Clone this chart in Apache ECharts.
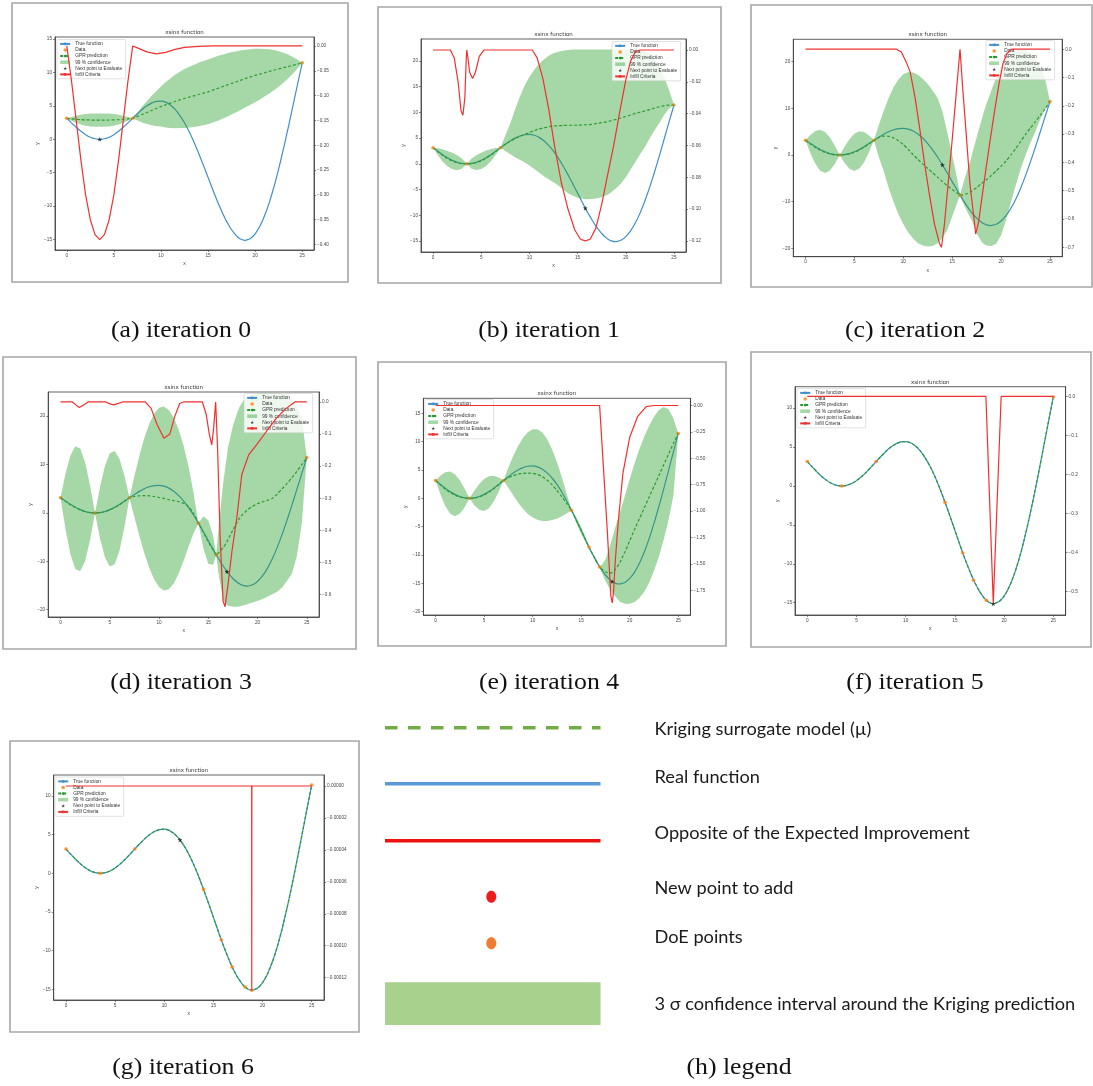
<!DOCTYPE html>
<html><head><meta charset="utf-8">
<script src="https://cdn.jsdelivr.net/npm/echarts@6/dist/echarts.min.js"></script>
<style>html,body{margin:0;padding:0;background:#fff}#c{width:1093px;height:1086px}</style>
</head><body><div id="c"></div>
<script>
// ---------- shared x grid and true function ----------
const X = [0,0.5,1,1.5,2,2.5,3,3.5,4,4.5,5,5.5,6,6.5,7,7.5,8,8.5,9,9.5,10,10.5,11,11.5,12,12.5,13,13.5,14,14.5,15,15.5,15.8,16,16.5,16.9,17,17.5,18,18.2,18.5,18.9,19,19.5,20,20.5,21,21.5,22,22.5,23,23.5,24,24.5,25];
const TRUE_Y = [3.14,2.45,1.79,1.19,0.69,0.31,0.08,0,0.08,0.31,0.69,1.19,1.79,2.45,3.14,3.82,4.46,5.00,5.41,5.66,5.71,5.55,5.14,4.48,3.58,2.46,1.12,-0.42,-2.10,-3.87,-5.70,-7.53,-8.61,-9.30,-10.91,-12.11,-12.36,-13.54,-14.43,-14.69,-14.97,-15.13,-15.12,-14.85,-14.15,-13.02,-11.45,-9.48,-7.11,-4.43,-1.48,1.66,4.92,8.20,11.43];
const X_TICKS = [0,5,10,15,20,25];

// ---------- (a) iteration 0 ----------
const gpA = [3.14,3.05,2.98,2.93,2.90,2.88,2.87,2.87,2.87,2.88,2.90,2.93,2.98,3.05,3.14,3.42,3.70,4.00,4.30,4.60,4.90,5.15,5.40,5.65,5.90,6.10,6.30,6.50,6.70,6.90,7.10,7.35,7.50,7.60,7.85,8.05,8.10,8.35,8.60,8.70,8.85,9.05,9.10,9.33,9.55,9.75,9.95,10.15,10.35,10.52,10.70,10.88,11.05,11.24,11.43];
const loA = [3.14,2.77,2.46,2.21,2.03,1.92,1.87,1.87,1.87,1.92,2.03,2.21,2.46,2.77,3.14,2.82,2.50,2.30,2.10,2.00,1.90,1.75,1.70,1.65,1.70,1.70,1.75,1.85,1.95,2.10,2.25,2.50,2.65,2.75,3.05,3.30,3.35,3.70,4.05,4.20,4.40,4.70,4.80,5.18,5.55,5.95,6.40,6.85,7.35,7.87,8.45,9.08,9.80,10.59,11.43];
const hiA = [3.14,3.33,3.50,3.65,3.77,3.84,3.87,3.87,3.87,3.84,3.77,3.65,3.50,3.33,3.14,4.02,4.90,5.70,6.50,7.20,7.90,8.55,9.10,9.65,10.10,10.50,10.85,11.15,11.45,11.70,11.95,12.20,12.35,12.45,12.65,12.80,12.85,13.00,13.15,13.20,13.30,13.40,13.40,13.48,13.55,13.55,13.50,13.45,13.35,13.17,12.95,12.68,12.30,11.89,11.43];
const eiA = [[0,0],[0.25,-0.035],[0.5,-0.07],[1,-0.15],[1.5,-0.23],[2,-0.30],[2.5,-0.35],[3,-0.38],[3.5,-0.39],[4,-0.38],[4.5,-0.35],[5,-0.30],[5.5,-0.23],[6,-0.15],[6.5,-0.07],[6.75,-0.035],[7,0],[7.5,-0.004],[8.5,-0.012],[9.5,-0.016],[10.5,-0.013],[11.5,-0.007],[12.5,-0.003],[14,-0.001],[15.5,0],[25,0]];
const dataA = [[0,3.14],[7,3.14],[25,11.43]];
const nextA = [[3.5,0]];

// ---------- (b) iteration 1 ----------
const gpB = [3.14,2.35,1.62,1.02,0.55,0.22,0.05,0,0.05,0.24,0.58,1.08,1.70,2.40,3.14,3.80,4.40,4.90,5.30,5.70,6.10,6.45,6.80,7.00,7.20,7.35,7.40,7.45,7.50,7.50,7.50,7.55,7.60,7.60,7.70,7.80,7.85,8.00,8.15,8.25,8.40,8.60,8.65,8.90,9.20,9.50,9.80,10.05,10.30,10.55,10.85,11.10,11.30,11.40,11.43];
const loB = [3.14,1.65,0.42,-0.48,-1.05,-1.23,-0.95,0,-0.95,-1.21,-1.02,-0.42,0.50,1.70,3.14,2.5,1.9,1.3,0.8,0.3,-0.3,-1.0,-1.7,-2.4,-3.0,-3.6,-4.2,-5.0,-5.7,-6.2,-6.6,-6.8,-6.9,-6.9,-6.85,-6.75,-6.7,-6.5,-6.1,-5.9,-5.5,-4.9,-4.75,-3.8,-2.6,-1.1,0.4,1.9,3.3,5.0,6.6,8.0,9.6,10.7,11.43];
const hiB = [3.14,3.05,2.82,2.52,2.15,1.67,1.05,0,1.05,1.69,2.18,2.58,2.90,3.10,3.14,5.5,7.8,10.5,13.0,15.2,16.9,18.3,19.4,20.3,21.0,21.5,21.8,22.0,22.1,22.2,22.2,22.2,22.2,22.2,22.2,22.2,22.2,22.2,22.2,22.2,22.2,22.2,22.2,22.2,22.2,22.2,22.2,22.1,21.9,21.3,20.2,18.9,16.8,14.3,11.43];
const eiB = [[0,0],[1.8,0],[2.2,-0.005],[2.6,-0.02],[2.9,-0.038],[3.1,-0.041],[3.3,-0.03],[3.45,-0.005],[3.5,0],[3.6,-0.004],[3.8,-0.014],[4.1,-0.018],[4.4,-0.014],[4.8,-0.004],[5.3,0],[10.3,0],[10.8,-0.005],[11.4,-0.018],[12,-0.037],[12.6,-0.06],[13.3,-0.083],[14,-0.1],[14.7,-0.113],[15.3,-0.119],[15.8,-0.12],[16.3,-0.119],[16.9,-0.112],[17.5,-0.097],[18.1,-0.079],[18.75,-0.06],[19.4,-0.038],[20,-0.019],[20.5,-0.007],[21,-0.001],[21.5,0],[25,0]];
const dataB = [[0,3.14],[3.5,0],[7,3.14],[25,11.43]];
const nextB = [[15.8,-8.61]];

// ---------- (c) iteration 2 ----------
const gpC = [3.14,2.35,1.62,1.02,0.55,0.22,0.05,0,0.05,0.24,0.58,1.08,1.70,2.40,3.14,3.75,4.05,4.00,3.65,3.05,2.25,1.20,0.10,-0.95,-1.95,-2.90,-3.80,-4.75,-5.70,-6.60,-7.40,-8.15,-8.61,-8.60,-8.30,-7.90,-7.70,-7.00,-6.10,-5.80,-5.30,-4.60,-4.40,-3.40,-2.40,-1.30,0.00,1.40,2.90,4.40,5.80,7.10,8.50,9.90,11.43];
const loC = [3.14,0.40,-1.90,-3.37,-3.84,-3.30,-1.90,0,-1.73,-2.97,-3.42,-2.92,-1.51,0.62,3.14,-0.5,-3.5,-7.0,-10.0,-12.7,-14.8,-16.6,-17.9,-18.9,-19.4,-19.6,-19.5,-18.9,-17.8,-16.1,-13.2,-10.3,-8.61,-9.8,-12.0,-13.6,-14.0,-16.8,-18.6,-19.0,-19.4,-19.5,-19.5,-19.0,-17.2,-14.0,-10.2,-6.5,-3.0,0.0,2.6,5.0,7.6,9.8,11.43];
const hiC = [3.14,4.30,5.14,5.41,4.94,3.74,2.00,0,1.83,3.45,4.58,5.08,4.91,4.18,3.14,6.5,9.5,12.2,14.5,16.2,17.3,17.8,17.7,17.2,16.3,15.2,13.8,12.2,9.4,4.8,0.0,-5.0,-8.61,-7.0,-3.5,-1.0,0.0,3.8,7.5,9.0,11.0,13.2,13.8,16.6,18.8,20.5,21.7,22.4,22.6,22.4,21.8,20.6,18.8,16.4,11.43];
const eiC = [[0,0],[9.3,0],[9.8,-0.01],[10.35,-0.05],[10.7,-0.08],[11.2,-0.17],[11.7,-0.285],[12.2,-0.41],[12.7,-0.52],[13.2,-0.62],[13.7,-0.686],[13.9,-0.70],[14.2,-0.62],[14.6,-0.47],[15.0,-0.32],[15.4,-0.16],[15.8,0],[16.1,-0.15],[16.4,-0.285],[16.8,-0.47],[17.2,-0.59],[17.4,-0.653],[17.7,-0.61],[18.3,-0.46],[18.8,-0.34],[19.3,-0.226],[19.8,-0.12],[20.2,-0.05],[20.6,-0.015],[21.1,0],[25,0]];
const dataC = [[0,3.14],[3.5,0],[7,3.14],[15.8,-8.61],[25,11.43]];
const nextC = [[14,-2.10]];

// ---------- (d) iteration 3 ----------
const gpD = [3.14,2.40,1.70,1.10,0.62,0.26,0.06,0,0.06,0.26,0.62,1.10,1.70,2.40,3.14,3.40,3.55,3.60,3.55,3.40,3.20,3.00,2.75,2.55,2.35,2.00,1.30,0.00,-2.10,-4.00,-6.00,-7.70,-8.61,-8.30,-7.20,-5.90,-5.50,-3.50,-1.60,-1.00,-0.30,0.50,0.70,1.40,1.90,2.30,2.60,3.00,3.90,5.00,6.10,7.30,8.60,10.00,11.43];
const loD = [3.14,-3.24,-8.47,-11.58,-12.06,-9.91,-5.58,0,-5.15,-9.12,-11.08,-10.60,-7.68,-2.81,3.14,-0.83,-4.69,-8.25,-11.30,-13.72,-15.32,-16.00,-15.77,-14.57,-12.50,-9.85,-6.94,-4.23,-2.10,-7.3,-10.5,-10.7,-8.61,-12.0,-18.0,-19.0,-19.2,-19.4,-19.4,-19.3,-19.1,-18.9,-18.8,-18.5,-18.2,-17.8,-17.3,-16.8,-16.3,-15.4,-14.0,-12.5,-8.8,-2.0,11.43];
const hiD = [3.14,8.04,11.87,13.78,13.30,10.43,5.70,0,5.27,9.64,12.32,12.80,11.08,7.61,3.14,7.63,11.79,15.45,18.40,20.52,21.72,22.00,21.27,19.67,17.20,13.85,9.54,4.23,-2.10,-0.7,-1.5,-4.7,-8.61,-4.0,6.0,12.0,13.5,18.0,21.0,22.0,23.0,24.0,24.2,24.5,24.7,24.8,24.8,24.8,24.8,24.7,24.3,23.5,22.0,19.5,11.43];
const eiD = [[0,0],[1.2,0],[1.6,-0.01],[1.9,-0.017],[2.3,-0.01],[2.8,0],[4.6,0],[5.0,-0.006],[5.4,-0.009],[5.8,-0.005],[6.3,0],[8.6,0],[9.2,-0.02],[9.8,-0.07],[10.5,-0.113],[11.1,-0.10],[11.6,-0.045],[12.1,-0.005],[12.5,0],[14.4,0],[14.8,-0.04],[15.1,-0.1],[15.35,-0.134],[15.55,-0.08],[15.75,0],[15.95,-0.15],[16.2,-0.42],[16.5,-0.62],[16.7,-0.638],[17.0,-0.57],[17.4,-0.466],[17.9,-0.36],[18.4,-0.227],[19.1,-0.165],[19.9,-0.134],[20.9,-0.092],[21.9,-0.051],[22.9,-0.02],[23.8,0],[25,0]];
const dataD = [[0,3.14],[3.5,0],[7,3.14],[14,-2.10],[15.8,-8.61],[25,11.43]];
const nextD = [[16.9,-12.11]];

// ---------- (e) iteration 4 ----------
const gpE = [3.14,2.35,1.62,1.02,0.55,0.22,0.05,0,0.05,0.24,0.58,1.08,1.70,2.40,3.14,3.65,4.00,4.25,4.40,4.45,4.40,4.20,3.80,3.20,2.40,1.40,0.30,-0.90,-2.10,-3.85,-5.65,-7.50,-8.61,-9.30,-10.90,-12.11,-12.35,-13.00,-13.20,-13.10,-12.60,-11.60,-11.30,-9.50,-7.50,-5.50,-3.60,-1.70,0.20,2.10,4.00,5.90,7.80,9.70,11.43];
const loE = [3.14,0.70,-1.35,-2.68,-3.15,-2.75,-1.60,0,-1.21,-2.03,-2.25,-1.75,-0.57,1.14,3.14,1.87,0.53,-0.74,-1.85,-2.76,-3.40,-3.80,-4.00,-4.01,-3.85,-3.59,-3.17,-2.68,-2.10,-4.35,-6.25,-7.90,-8.61,-9.50,-11.20,-12.11,-12.60,-14.60,-16.10,-16.60,-17.30,-18.10,-18.30,-18.60,-18.60,-18.30,-17.60,-16.50,-14.90,-12.80,-10.30,-7.30,-3.80,0.50,11.43];
const hiE = [3.14,4.00,4.59,4.72,4.25,3.19,1.70,0,1.31,2.51,3.41,3.91,3.97,3.66,3.14,5.43,7.47,9.24,10.65,11.66,12.20,12.20,11.60,10.41,8.65,6.39,3.77,0.88,-2.10,-3.35,-5.05,-7.10,-8.61,-9.10,-10.60,-12.11,-12.10,-10.80,-8.20,-7.00,-5.20,-3.00,-2.40,0.40,3.40,6.20,8.70,10.90,12.80,14.40,15.60,16.10,15.70,14.10,11.43];
const eiE = [[0,0],[16.9,0],[17.3,-0.6],[17.7,-1.2],[18.05,-1.8],[18.2,-1.87],[18.35,-1.75],[18.5,-1.49],[18.8,-1.12],[19.3,-0.64],[20.0,-0.30],[20.8,-0.106],[21.7,-0.01],[22.5,0],[25,0]];
const dataE = [[0,3.14],[3.5,0],[7,3.14],[14,-2.10],[15.8,-8.61],[16.9,-12.11],[25,11.43]];
const nextE = [[18.2,-14.69]];

// ---------- (f) iteration 5 ----------
const gpF = TRUE_Y;
const eiF = [[0,0],[18.15,0],[18.9,-0.53],[19.7,0],[25,0]];
const dataF = [[0,3.14],[3.5,0],[7,3.14],[14,-2.10],[15.8,-8.61],[16.9,-12.11],[18.2,-14.69],[25,11.43]];
const nextF = [[18.9,-15.13]];

// ---------- (g) iteration 6 ----------
const gpG = TRUE_Y;
const eiG = [[0,0],[18.89,0],[18.9,-0.000128],[18.91,0],[25,0]];
const dataG = [[0,3.14],[3.5,0],[7,3.14],[14,-2.10],[15.8,-8.61],[16.9,-12.11],[18.2,-14.69],[18.9,-15.13],[25,11.43]];
const nextG = [[11.6,4.32]];

// ---------- tick labels ----------
const yTicksA = [-15,-10,-5,0,5,10,15];
const y2TicksA = [0,-0.05,-0.1,-0.15,-0.2,-0.25,-0.3,-0.35,-0.4];
const yTicksB = [-15,-10,-5,0,5,10,15,20];
const y2TicksB = [0,-0.02,-0.04,-0.06,-0.08,-0.1,-0.12];
const yTicksC = [-20,-10,0,10,20];
const y2TicksC = [0,-0.1,-0.2,-0.3,-0.4,-0.5,-0.6,-0.7];
const yTicksD = [-20,-10,0,10,20];
const y2TicksD = [0,-0.1,-0.2,-0.3,-0.4,-0.5,-0.6];
const yTicksE = [-20,-15,-10,-5,0,5,10,15];
const y2TicksE = [0,-0.25,-0.5,-0.75,-1,-1.25,-1.5,-1.75];
const yTicksF = [-15,-10,-5,0,5,10];
const y2TicksF = [0,-0.1,-0.2,-0.3,-0.4,-0.5];
const yTicksG = [-15,-10,-5,0,5,10];
const y2TicksG = [0,-0.00002,-0.00004,-0.00006,-0.00008,-0.0001,-0.00012];

const NAMES = ['True function','Data','GPR prediction','99 % confidence','Next point to Evaluate','Infill Criteria'];

// ---------- layout (positions / sizes only) ----------
const panels = [
  {gp:gpA, lo:loA, hi:hiA, ei:eiA, data:dataA, next:nextA, yT:yTicksA, y2T:y2TicksA, dec:2,
   grid:[55,37,259,213], yr:[-16.57,15.3], y2r:[-0.411,0.018], frame:[12,3,336,279], leg:[57,39.5], cap:['(a) iteration 0',181,331]},
  {gp:gpB, lo:loB, hi:hiB, ei:eiB, data:dataB, next:nextB, yT:yTicksB, y2T:y2TicksB, dec:2,
   grid:[421,39,265,213], yr:[-17.13,24.26], y2r:[-0.127,0.0069], frame:[378,7,343,276], leg:[612,41.5], cap:['(b) iteration 1',549,331]},
  {gp:gpC, lo:loC, hi:hiC, ei:eiC, data:dataC, next:nextC, yT:yTicksC, y2T:y2TicksC, dec:1,
   grid:[793.3,39.3,268.9,217.4], yr:[-21.8,24.8], y2r:[-0.733,0.035], frame:[751,5,341,282], leg:[986,40.5], cap:['(c) iteration 2',915,331]},
  {gp:gpD, lo:loD, hi:hiD, ei:eiD, data:dataD, next:nextD, yT:yTicksD, y2T:y2TicksD, dec:1,
   grid:[48.2,392,270.9,225], yr:[-21.5,25.0], y2r:[-0.670,0.031], frame:[3,357,353,292], leg:[244,393.5], cap:['(d) iteration 3',181,683]},
  {gp:gpE, lo:loE, hi:hiE, ei:eiE, data:dataE, next:nextE, yT:yTicksE, y2T:y2TicksE, dec:2,
   grid:[423.4,398.3,267,216.7], yr:[-20.6,17.65], y2r:[-1.984,0.068], frame:[378,362,348,284], leg:[425,399.5], cap:['(e) iteration 4',549,683]},
  {gp:gpF, lo:null, hi:null, ei:eiF, data:dataF, next:nextF, yT:yTicksF, y2T:y2TicksF, dec:1,
   grid:[795,386.7,270.6,228.3], yr:[-16.58,12.76], y2r:[-0.56,0.025], frame:[751,352,340,295], leg:[797,388.5], cap:['(f) iteration 5',915,683]},
  {gp:gpG, lo:null, hi:null, ei:eiG, data:dataG, next:nextG, yT:yTicksG, y2T:y2TicksG, dec:5,
   grid:[53.7,775,270.3,225], yr:[-16.39,12.72], y2r:[-0.000134,0.0000069], frame:[10,741,349,291], leg:[55,777], cap:['(g) iteration 6',183,1068]}
];

function fmt(v, d) {
  const s = Math.abs(v).toFixed(d);
  return (v < -1e-12 ? '\u2212' : '') + s;
}
function pairs(xs, ys) { return xs.map((x, k) => [x, ys[k]]); }

const AX = '#3a3a3a', LBL = '#444';
const C_TRUE = '#3f8fcc', C_GP = '#2a9a35', C_BAND = 'rgba(44,160,44,0.42)', C_EI = '#f0302f', C_DATA = '#ff7f0e';
const STAR = 'path://M50,0 L61,35 L98,35 L68,57 L79,91 L50,70 L21,91 L32,57 L2,35 L39,35 Z';

const grid = [], xAxis = [], yAxis = [], series = [], legend = [], graphic = [];

panels.forEach((p, i) => {
  const [gl, gt, gw, gh] = p.grid;
  grid.push({left: gl, top: gt, width: gw, height: gh, show: true, borderColor: AX, borderWidth: 0.8, backgroundColor: 'rgba(0,0,0,0)'});
  xAxis.push({gridIndex: i, type: 'value', min: -1.25, max: 26.25,
    name: 'x', nameLocation: 'middle', nameGap: 11, nameTextStyle: {fontSize: 5, color: LBL},
    axisLine: {show: true, onZero: false, lineStyle: {color: AX, width: 0.8}},
    axisTick: {show: true, length: 2, customValues: X_TICKS, lineStyle: {color: AX, width: 0.6}},
    axisLabel: {fontSize: 4.7, color: LBL, margin: 3, customValues: X_TICKS, formatter: v => fmt(v, 0)},
    splitLine: {show: false}});
  yAxis.push({gridIndex: i, type: 'value', position: 'left', min: p.yr[0], max: p.yr[1],
    name: 'y', nameLocation: 'middle', nameGap: 13, nameRotate: 90, nameTextStyle: {fontSize: 5, color: LBL},
    axisLine: {show: true, onZero: false, lineStyle: {color: AX, width: 0.8}},
    axisTick: {show: true, length: 2, customValues: p.yT, lineStyle: {color: AX, width: 0.6}},
    axisLabel: {fontSize: 4.7, color: LBL, margin: 3, customValues: p.yT, formatter: v => fmt(v, 0)},
    splitLine: {show: false}});
  yAxis.push({gridIndex: i, type: 'value', position: 'right', min: p.y2r[0], max: p.y2r[1],
    axisLine: {show: true, onZero: false, lineStyle: {color: AX, width: 0.8}},
    axisTick: {show: true, length: 2, customValues: p.y2T, lineStyle: {color: AX, width: 0.6}},
    axisLabel: {fontSize: 4.7, color: LBL, margin: 3, customValues: p.y2T, formatter: v => fmt(v, p.dec)},
    splitLine: {show: false}});

  const yi = 2 * i, y2i = 2 * i + 1;
  series.push({type: 'line', name: NAMES[0], xAxisIndex: i, yAxisIndex: yi, data: pairs(X, TRUE_Y),
    symbol: 'none', smooth: 0.2, lineStyle: {color: C_TRUE, width: 1.2}, itemStyle: {color: C_TRUE}, z: 2, silent: true});
  series.push({type: 'scatter', name: NAMES[1], xAxisIndex: i, yAxisIndex: yi, data: p.data,
    symbol: 'circle', symbolSize: 3.6, itemStyle: {color: C_DATA}, z: 2, silent: true});
  series.push({type: 'line', name: NAMES[2], xAxisIndex: i, yAxisIndex: yi, data: pairs(X, p.gp),
    symbol: 'none', smooth: 0.2, lineStyle: {color: C_GP, width: 1.2, type: [3, 2]}, itemStyle: {color: C_GP}, z: 2, silent: true});
  if (p.lo) {
    const pts = X.map((x, k) => [x, p.lo[k], p.hi[k]]);
    series.push({type: 'custom', name: NAMES[3], xAxisIndex: i, yAxisIndex: yi, data: pts,
      encode: {x: 0, y: [1, 2]}, itemStyle: {color: C_BAND}, z: 3, silent: true, clip: true,
      renderItem: (params, api) => {
        if (params.dataIndex !== 0) return null;
        const up = pts.map(d => api.coord([d[0], d[2]]));
        const dn = pts.map(d => api.coord([d[0], d[1]])).reverse();
        return {type: 'polygon', shape: {points: up.concat(dn)}, style: {fill: C_BAND}};
      }});
  }
  series.push({type: 'scatter', name: NAMES[4], xAxisIndex: i, yAxisIndex: yi, data: p.next,
    symbol: STAR, symbolSize: 5, itemStyle: {color: '#111'}, z: 3, silent: true});
  series.push({type: 'line', name: NAMES[5], xAxisIndex: i, yAxisIndex: y2i, data: p.ei,
    symbol: 'none', lineStyle: {color: C_EI, width: 1.2}, itemStyle: {color: C_EI}, z: 5, silent: true});

  legend.push({left: p.leg[0], top: p.leg[1], orient: 'vertical', selectedMode: false, z: 4,
    itemWidth: 10, itemHeight: 3.6, itemGap: 0.9, padding: [1.8, 3.5, 1.8, 2.2],
    backgroundColor: 'rgba(255,255,255,0.82)', borderColor: '#cccccc', borderWidth: 0.6, borderRadius: 1,
    textStyle: {fontSize: 4.8, lineHeight: 5.2, color: '#333'},
    data: [
      {name: NAMES[0]},
      {name: NAMES[1], icon: 'circle'},
      {name: NAMES[2]},
      {name: NAMES[3], icon: 'rect', itemStyle: {color: C_BAND}},
      {name: NAMES[4], icon: STAR},
      {name: NAMES[5]}
    ]});

  const [fx, fy, fw, fh] = p.frame;
  graphic.push({type: 'rect', shape: {x: fx, y: fy, width: fw, height: fh}, style: {fill: 'none', stroke: '#a6a6a6', lineWidth: 1.6}, z: 0, silent: true});
  graphic.push({type: 'text', x: gl + gw / 2, y: gt - 4.5, silent: true,
    style: {text: 'xsinx function', font: '5.5px "DejaVu Sans"', fill: '#333', textAlign: 'center', textVerticalAlign: 'middle', align: 'center', verticalAlign: 'middle'}});
  graphic.push({type: 'text', x: p.cap[1], y: p.cap[2], scaleX: 1.12, silent: true,
    style: {text: p.cap[0], font: '23px "Liberation Serif"', fill: '#111', textAlign: 'center', textVerticalAlign: 'middle', align: 'center', verticalAlign: 'middle'}});
});

// ---------- (h) legend panel ----------
const LX1 = 385, LX2 = 600.5, TX = 654.5;
const legFont = '18.2px Lato';
graphic.push(
  {type: 'line', shape: {x1: LX1, y1: 727.7, x2: LX2, y2: 727.7}, style: {stroke: '#70ad47', lineWidth: 3.4, lineDash: [12.5, 10.5]}, silent: true},
  {type: 'line', shape: {x1: LX1, y1: 783.7, x2: LX2, y2: 783.7}, style: {stroke: '#5b9bd5', lineWidth: 3.4}, silent: true},
  {type: 'line', shape: {x1: LX1, y1: 840.7, x2: LX2, y2: 840.7}, style: {stroke: '#ee1111', lineWidth: 3.4}, silent: true},
  {type: 'ellipse', shape: {cx: 491.3, cy: 896.7, rx: 5, ry: 6}, style: {fill: '#ee1c1c'}, silent: true},
  {type: 'ellipse', shape: {cx: 491.3, cy: 943.3, rx: 5, ry: 6}, style: {fill: '#ed7d31'}, silent: true},
  {type: 'rect', shape: {x: LX1, y: 982.3, width: LX2 - LX1, height: 42.7}, style: {fill: '#a9d18e'}, silent: true}
);
[['Kriging surrogate model (\u00b5)', 729.3], ['Real function', 777.3], ['Opposite of the Expected Improvement', 833.3],
 ['New point to add', 888.3], ['DoE points', 937.3], ['3 \u03c3 confidence interval around the Kriging prediction', 1004]].forEach(t => {
  graphic.push({type: 'text', x: TX, y: t[1], silent: true,
    style: {text: t[0], font: legFont, fill: '#1a1a1a', textAlign: 'left', textVerticalAlign: 'middle', align: 'left', verticalAlign: 'middle'}});
});
graphic.push({type: 'text', x: 739, y: 1068, scaleX: 1.12, silent: true,
  style: {text: '(h) legend', font: '23px "Liberation Serif"', fill: '#111', textAlign: 'center', textVerticalAlign: 'middle', align: 'center', verticalAlign: 'middle'}});

const chart = echarts.init(document.getElementById('c'), null, {renderer: 'canvas', width: 1093, height: 1086});
chart.setOption({
  animation: false,
  backgroundColor: '#ffffff',
  grid, xAxis, yAxis, series, legend, graphic
});
</script>
</body></html>
